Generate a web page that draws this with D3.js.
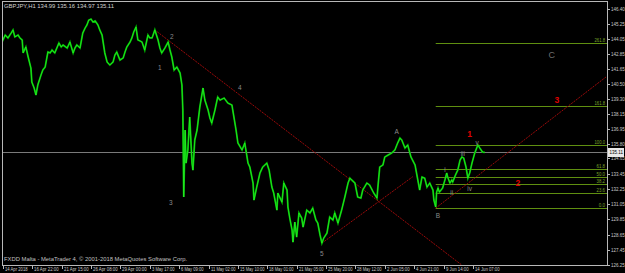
<!DOCTYPE html>
<html><head><meta charset="utf-8">
<script src="https://cdn.jsdelivr.net/npm/d3@7"></script>
<style>html,body{margin:0;padding:0;background:#000;overflow:hidden}svg{display:block}</style>
</head><body><svg id="c" width="625" height="273"></svg>
<script>
// ---- data (bar index of H1 series, close price) ----
const bars = [0,7,13,20,24,28,35,39,44,46,52,57,63,65,70,74,78,85,89,94,100,105,109,115,124,129,133,142,148,155,159,163,170,176,181,185,189,194,198,203,209,213,218,224,229,235,242,246,250,257,264,268,272,279,283,287,292,296,301,305,311,318,322,327,333,340,344,348,355,362,366,370,375,381,388,392,394,396,399,401,405,409,414,416,420,425,431,438,442,449,453,457,464,470,475,484,492,501,510,514,523,529,536,540,547,549,555,562,568,577,582,588,592,599,601,610,614,621,623,627,632,634,638,642,647,653,656,664,671,677,684,688,693,697,701,708,714,721,725,732,740,747,754,758,762,769,775,782,786,795,801,810,817,819,823,830,834,841,849,856,862,867,871,878,884,891,900,906,910,915,921,926,932,939,941,945,947,950,953,960,965,969,971,976,980,982,988,993,998,1002,1006,1011,1015,1019,1024,1030,1035,1037,1041,1047,1052];
const closes = [143.80,144.35,144.12,144.51,144.75,144.20,144.35,144.12,143.96,142.94,143.41,142.62,141.75,140.65,140.18,139.63,140.42,141.20,141.60,141.83,143.01,142.94,143.17,142.94,143.72,143.41,143.57,143.33,143.80,142.94,143.33,143.57,143.33,144.51,144.90,145.14,145.53,145.61,145.38,145.46,145.14,144.75,144.35,142.94,142.23,141.99,142.23,142.78,143.01,142.38,142.54,143.01,143.41,143.80,144.12,144.59,144.98,143.96,143.88,143.80,143.17,144.35,144.12,144.12,144.75,143.96,143.33,142.94,143.33,143.80,143.17,142.62,141.60,141.83,141.36,140.42,138.45,131.60,136.87,134.27,135.30,137.90,134.27,133.72,136.09,136.87,138.68,140.18,139.23,138.45,137.82,137.42,138.45,139.47,139.23,139.39,139.00,138.84,136.87,135.85,135.30,135.85,134.27,133.96,132.70,131.36,132.38,133.49,133.96,134.27,133.72,132.38,131.91,130.57,131.91,131.20,132.70,132.15,130.81,129.94,129.00,128.05,129.63,128.45,130.34,129.94,129.23,130.57,130.34,130.73,129.79,129.55,128.61,127.97,128.37,128.76,130.02,129.79,130.34,129.55,130.57,131.60,132.70,133.09,132.94,132.70,131.60,131.52,132.15,132.70,132.54,131.91,131.52,132.38,133.96,134.12,134.75,134.90,135.06,135.30,135.85,136.24,136.09,135.46,135.69,134.75,134.12,132.94,132.15,133.17,133.09,132.38,132.70,132.15,131.36,130.81,131.99,132.31,131.99,132.31,132.94,133.49,133.17,132.70,132.94,132.78,133.33,133.72,134.51,134.75,134.67,133.96,133.09,133.49,134.27,135.06,135.53,135.69,135.46,135.14,135.11];

const priceTicks = [146.40,145.25,144.05,142.85,141.65,140.50,139.30,138.15,136.95,135.80,134.65,133.45,132.25,131.05,129.85,128.65,127.45,126.25];
const timeLabels = ["14 Apr 2018","16 Apr 22:00","21 Apr 15:00","26 Apr 08:00","29 Apr 00:00","3 May 17:00","6 May 09:00","11 May 02:00","15 May 10:00","18 May 01:00","21 May 05:00","25 May 20:00","28 May 12:00","2 Jun 05:00","4 Jun 21:00","9 Jun 14:00","14 Jun 07:00"];
const timeTickBars = [2,66,130,194,258,322,386,450,514,578,642,706,770,834,898,962,1026];

const titleText = "GBPJPY,H1  134.99 135.16 134.97 135.11";
const footerText = "FXDD Malta - MetaTrader 4, \u00A9 2001-2018 MetaQuotes Software Corp.";
const lastPrice = 135.11;

// Fibonacci
const fibLevels = [0, 23.6, 38.2, 50.0, 61.8, 100.0, 161.8, 261.8];
const fibLow = 130.73, fibHigh = 135.69, fibStartBar = 945;

// Trend lines [bar1, price1, bar2, price2]
const trendLines = [
  [333, 144.75, 1002, 126.24],
  [697, 127.97, 895, 133.20],
  [945, 130.73, 1316, 141.05]
];

// Wave labels
const waveText  = ["1","2","3","4","5","A","B","C","i","ii","iii","iv","v"];
const waveBar   = [344,370,368,518,697,860,950,1198,965,980,1004,1019,1035];
const wavePrice = [141.75,144.20,131.12,140.18,127.11,136.71,130.10,142.78,133.72,131.91,134.98,132.23,135.85];
const redText  = ["1","2","3"];
const redBar   = [1019,1124,1209];
const redPrice = [136.56,132.70,139.23];

// ---- drawing ----
const svg = d3.select("#c");
svg.append("rect").attr("width",625).attr("height",273).attr("fill","#000");

const x = d3.scaleLinear().domain([0,1316]).range([2,606]);
const y = d3.scaleLinear().domain([146.40,126.25]).range([9,265]);
const L = 2, R = 607, T = 1, B = 265;
const font = "'Liberation Sans', Arial, sans-serif";

const plot = svg.append("g");
plot.append("clipPath").attr("id","clip").append("rect").attr("x",L).attr("y",T).attr("width",R-L).attr("height",B-T);
const g = plot.append("g").attr("clip-path","url(#clip)");

// fib lines
const fibY = lv => fibLow + (fibHigh - fibLow) * lv / 100;
fibLevels.forEach(lv => {
  const yy = Math.round(y(fibY(lv))) + 0.5;
  g.append("line").attr("x1",x(fibStartBar)).attr("x2",R).attr("y1",yy).attr("y2",yy)
    .attr("stroke","#5f8f10").attr("stroke-width",1);
  const s = lv.toFixed(1);
  svg.append("text").attr("x",R-2).attr("y",yy-1.5).attr("text-anchor","end")
    .attr("font-family",font).attr("font-size",5).attr("fill","#7aa52a")
    .attr("textLength", s.length*2.1).attr("lengthAdjust","spacingAndGlyphs").text(s);
});

// current price line
const yp = Math.round(y(lastPrice)) + 0.5;
g.append("line").attr("x1",L).attr("x2",R).attr("y1",yp).attr("y2",yp).attr("stroke","#7a7a7a").attr("stroke-width",1);

// trend lines
trendLines.forEach(t => {
  g.append("line").attr("x1",x(t[0])).attr("y1",y(t[1])).attr("x2",x(t[2])).attr("y2",y(t[3]))
    .attr("stroke","#9a0a0a").attr("stroke-width",1).attr("stroke-dasharray","2,1");
});

// price line
const data = bars.map((b,i)=>[b,closes[i]]);
const ln = d3.line().x(d=>x(d[0])).y(d=>y(d[1]));
g.append("path").datum(data).attr("d", ln)
  .attr("fill","none").attr("stroke","#00b400").attr("stroke-width",1.8).attr("stroke-linejoin","miter");
g.append("path").datum(data).attr("d", ln)
  .attr("fill","none").attr("stroke","#30ff30").attr("stroke-width",0.6);

// wave labels
waveText.forEach((t,i)=>{
  const big = t === "C";
  svg.append("text").attr("x",x(waveBar[i])).attr("y",y(wavePrice[i])).attr("dy","0.35em")
    .attr("text-anchor","middle").attr("font-family",font).attr("font-size", big?9:6.5)
    .attr("fill", big?"#6e6e6e":"#8a8a8a").text(t);
});
redText.forEach((t,i)=>{
  svg.append("text").attr("x",x(redBar[i])).attr("y",y(redPrice[i])).attr("dy","0.35em")
    .attr("text-anchor","middle").attr("font-family",font).attr("font-size",8.5).attr("font-weight","bold")
    .attr("fill","#e00000").text(t);
});

// frame
const frame = svg.append("g").attr("stroke","#b8b8b8").attr("stroke-width",1).attr("shape-rendering","crispEdges");
frame.append("line").attr("x1",L).attr("x2",R).attr("y1",T+0.5).attr("y2",T+0.5);
frame.append("line").attr("x1",L).attr("x2",R+1).attr("y1",B+0.5).attr("y2",B+0.5);
frame.append("line").attr("x1",L+0.5).attr("x2",L+0.5).attr("y1",T).attr("y2",B);
frame.append("line").attr("x1",R+0.5).attr("x2",R+0.5).attr("y1",T).attr("y2",B+1);

// price axis
priceTicks.forEach(p=>{
  const yy = Math.round(y(p)) + 0.5;
  frame.append("line").attr("x1",R).attr("x2",R+3).attr("y1",yy).attr("y2",yy);
  svg.append("text").attr("x",R+4).attr("y",yy).attr("dy","0.35em").attr("font-family",font)
    .attr("font-size",4.5).attr("fill","#c8c8c8").text(p.toFixed(2));
});
// current price box
svg.append("rect").attr("x",R+1).attr("y",yp-4.5).attr("width",16).attr("height",9).attr("fill","#e8e8e8");
svg.append("text").attr("x",R+2.5).attr("y",yp).attr("dy","0.35em").attr("font-family",font)
  .attr("font-size",4.5).attr("fill","#000").text(lastPrice.toFixed(2));

// time axis
timeTickBars.forEach((b,i)=>{
  const xx = Math.round(x(b)) + 0.5;
  frame.append("line").attr("x1",xx).attr("x2",xx).attr("y1",B).attr("y2",B+4);
  const s = timeLabels[i];
  svg.append("text").attr("x",xx+1.5).attr("y",271).attr("font-family",font)
    .attr("font-size",5).attr("fill","#c8c8c8")
    .attr("textLength", s.length*2.05).attr("lengthAdjust","spacingAndGlyphs").text(s);
});

// title & footer
svg.append("text").attr("x",4).attr("y",8).attr("font-family",font).attr("font-size",5.6).attr("fill","#d0d0d0")
  .attr("textLength",110).attr("lengthAdjust","spacingAndGlyphs").text(titleText);
svg.append("text").attr("x",4).attr("y",261).attr("font-family",font).attr("font-size",5.3).attr("fill","#c0c0c0")
  .attr("textLength",183).attr("lengthAdjust","spacingAndGlyphs").text(footerText);
</script></body></html>
